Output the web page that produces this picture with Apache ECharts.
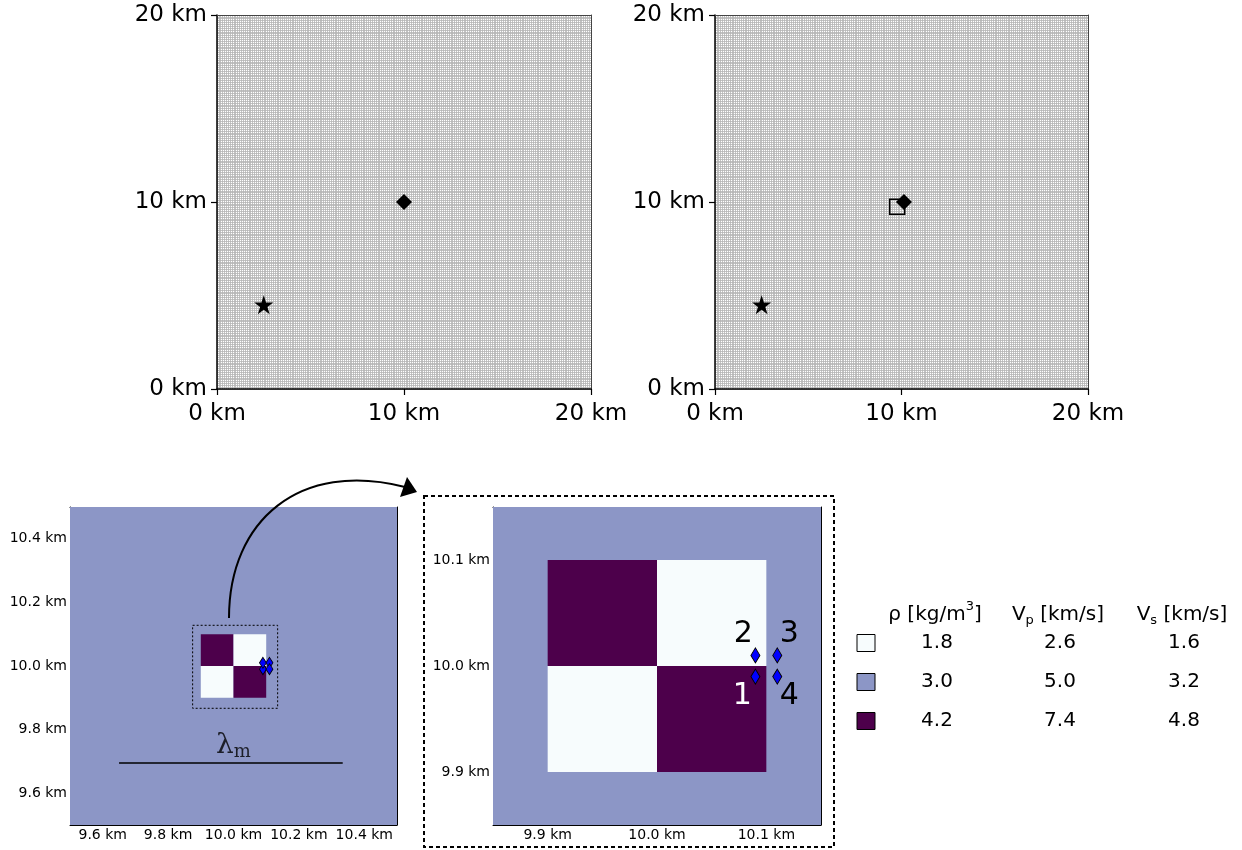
<!DOCTYPE html>
<html>
<head>
<meta charset="utf-8">
<script src="https://cdn.jsdelivr.net/npm/echarts@6/dist/echarts.min.js"></script>
<style>html,body{margin:0;padding:0;background:#fff}#c{width:1242px;height:850px}</style>
</head>
<body>
<div id="c"></div>
<script>
// ---------- data ----------
const topTicks = [0, 10, 20];
const topRange = [0, 20];
const meshStep = 0.1;
const sourceStar = [[2.5, 4.5]];
const leftStation = [[10.0, 10.0]];
const rightStation = [[10.13, 10.0]];
const rightSquare = [[9.77, 9.74]];

const zoomRangeL = [9.5, 10.5];
const zoomTicksL = [9.6, 9.8, 10.0, 10.2, 10.4];
const zoomRangeR = [9.85, 10.15];
const zoomTicksR = [9.9, 10.0, 10.1];

// cells: x0, y0, x1, y1, material index
const checkerCells = [
  [9.9, 10.0, 10.0, 10.1, 2],
  [10.0, 10.0, 10.1, 10.1, 0],
  [9.9, 9.9, 10.0, 10.0, 0],
  [10.0, 9.9, 10.1, 10.0, 2]
];
const backgroundMaterial = 1;
const inclusionBox = [[9.875, 9.867, 10.135, 10.128]];
const receivers = [[10.09, 9.99], [10.09, 10.01], [10.11, 10.01], [10.11, 9.99]];
const receiverNames = ['1', '2', '3', '4'];
const lambdaLine = [[9.65, 9.695], [10.334, 9.695]];
const lambdaLabelPos = [[10.0, 9.748]];

const materialColors = ['#f7fcfd', '#8c96c6', '#4d004b'];
const rhoValues = ['1.8', '3.0', '4.2'];
const vpValues = ['2.6', '5.0', '7.4'];
const vsValues = ['1.6', '3.2', '4.8'];

// ---------- helpers ----------
const FONT = 'DejaVu Sans';
function cellSeries(data, xi, yi, z) {
  return {
    type: 'custom', xAxisIndex: xi, yAxisIndex: yi, z: z || 1,
    encode: { x: [0, 2], y: [1, 3] },
    data: data,
    silent: true,
    renderItem: function (params, api) {
      const p0 = api.coord([api.value(0), api.value(1)]);
      const p1 = api.coord([api.value(2), api.value(3)]);
      return {
        type: 'rect',
        shape: { x: Math.min(p0[0], p1[0]), y: Math.min(p0[1], p1[1]),
                 width: Math.abs(p1[0] - p0[0]), height: Math.abs(p1[1] - p0[1]) },
        style: { fill: materialColors[api.value(4)] }
      };
    }
  };
}
function topMainX(gi) {
  return { type: 'value', gridIndex: gi, min: topRange[0], max: topRange[1], interval: 10, position: 'bottom',
    axisLine: { show: true, onZero: false, lineStyle: { color: '#000', width: 1.5 } },
    axisTick: { show: true, inside: false, length: 6, lineStyle: { color: '#000', width: 1.2 } },
    axisLabel: { show: true, margin: 14, color: '#000', fontSize: 23, fontFamily: FONT, formatter: v => v + ' km' },
    splitLine: { show: false } };
}
function topMainY(gi) {
  return { type: 'value', gridIndex: gi, min: topRange[0], max: topRange[1], interval: 10, position: 'left',
    axisLine: { show: true, onZero: false, lineStyle: { color: '#000', width: 1.5 } },
    axisTick: { show: true, inside: false, length: 6, lineStyle: { color: '#000', width: 1.2 } },
    axisLabel: { show: true, margin: 10, color: '#000', fontSize: 23, fontFamily: FONT, formatter: v => v + ' km' },
    splitLine: { show: false } };
}
function meshAxis(kind, gi) {
  return { type: 'value', gridIndex: gi, min: topRange[0], max: topRange[1], interval: meshStep,
    position: kind === 'x' ? 'top' : 'right',
    axisLine: { show: true, onZero: false, lineStyle: { color: '#444', width: 1 } },
    axisTick: { show: false }, axisLabel: { show: false },
    splitLine: { show: true, lineStyle: { color: '#b4b4b4', width: 0.8 } } };
}
function zoomAxis(kind, gi, range, ticks, withLabels) {
  const pos = kind === 'x' ? (withLabels ? 'bottom' : 'top') : (withLabels ? 'left' : 'right');
  return { type: 'value', gridIndex: gi, min: range[0], max: range[1], position: pos,
    axisLine: { show: true, onZero: false, lineStyle: { color: '#000', width: 1 } },
    axisTick: { show: true, inside: true, length: 4, customValues: ticks, lineStyle: { color: '#000', width: 1 } },
    axisLabel: { show: withLabels, customValues: ticks, margin: 3, color: '#000', fontSize: 14, fontFamily: FONT,
      formatter: v => v.toFixed(1) + ' km' },
    splitLine: { show: false } };
}
const starPath = 'path://M50,0 L61.8,35.5 L99,35.5 L69,57.5 L80.4,93 L50,71 L19.6,93 L31,57.5 L1,35.5 L38.2,35.5 Z';

const mediumL = [[zoomRangeL[0], zoomRangeL[0], zoomRangeL[1], zoomRangeL[1], backgroundMaterial]];
const mediumR = [[zoomRangeR[0], zoomRangeR[0], zoomRangeR[1], zoomRangeR[1], backgroundMaterial]];

const receiverLabelOffsets = [[-13, 20], [-12, -21], [12, -21], [12, 20]];
const receiverLabelColors = ['#fff', '#000', '#000', '#000'];

// ---------- legend table (graphic) ----------
const colX = [935, 1058, 1182];
const headerY = 615;
const rowY = [643, 682, 721];
const legendGraphics = [];
const subRich = {
  a: { fontFamily: FONT, fontSize: 20, color: '#000', lineHeight: 24, verticalAlign: 'middle' },
  sub: { fontFamily: FONT, fontSize: 13, color: '#000', lineHeight: 12, verticalAlign: 'bottom' },
  sup: { fontFamily: FONT, fontSize: 13, color: '#000', lineHeight: 30, verticalAlign: 'top' }
};
const headers = ['{a|ρ [kg/m}{sup|3}{a|]}', '{a|V}{sub|p}{a| [km/s]}', '{a|V}{sub|s}{a| [km/s]}'];
headers.forEach((h, i) => {
  legendGraphics.push({ type: 'text', x: colX[i], y: headerY, z: 100,
    style: { text: h, rich: subRich, align: 'center', verticalAlign: 'middle' } });
});
materialColors.forEach((c, r) => {
  legendGraphics.push({ type: 'rect', z: 100, shape: { x: 857, y: rowY[r] - 8.5, width: 18, height: 17 },
    style: { fill: c, stroke: '#000', lineWidth: 1 } });
  [rhoValues[r], vpValues[r], vsValues[r]].forEach((v, i) => {
    legendGraphics.push({ type: 'text', z: 100, x: colX[i] + 2, y: rowY[r],
      style: { text: v, font: '20px ' + FONT, fill: '#000', align: 'center', verticalAlign: 'middle' } });
  });
});

// ---------- decorations ----------
const decorations = [
  { type: 'rect', z: 100, shape: { x: 424, y: 496, width: 410, height: 351 },
    style: { fill: 'none', stroke: '#000', lineWidth: 2, lineDash: [4, 3] } },
  { type: 'bezierCurve', z: 100, shape: { x1: 229, y1: 618, cpx1: 229, cpy1: 520, cpx2: 300, cpy2: 460, x2: 405, y2: 487 },
    style: { fill: 'none', stroke: '#000', lineWidth: 2 } },
  { type: 'polygon', z: 100, shape: { points: [[417, 492], [407, 477], [400, 497]] }, style: { fill: '#000' } }
];

const solid = c => ({ color: c, opacity: 1 });

const chart = echarts.init(document.getElementById('c'));
chart.setOption({
  backgroundColor: '#fff',
  animation: false,
  grid: [
    { left: 217, top: 15, width: 374, height: 374 },
    { left: 715, top: 15, width: 373, height: 374 },
    { left: 70, top: 507, width: 327, height: 318 },
    { left: 493, top: 507, width: 328, height: 318 }
  ],
  xAxis: [
    topMainX(0), meshAxis('x', 0),
    topMainX(1), meshAxis('x', 1),
    zoomAxis('x', 2, zoomRangeL, zoomTicksL, true), zoomAxis('x', 2, zoomRangeL, zoomTicksL, false),
    zoomAxis('x', 3, zoomRangeR, zoomTicksR, true), zoomAxis('x', 3, zoomRangeR, zoomTicksR, false)
  ],
  yAxis: [
    topMainY(0), meshAxis('y', 0),
    topMainY(1), meshAxis('y', 1),
    zoomAxis('y', 2, zoomRangeL, zoomTicksL, true), zoomAxis('y', 2, zoomRangeL, zoomTicksL, false),
    zoomAxis('y', 3, zoomRangeR, zoomTicksR, true), zoomAxis('y', 3, zoomRangeR, zoomTicksR, false)
  ],
  series: [
    // top-left
    { type: 'scatter', xAxisIndex: 0, yAxisIndex: 0, data: sourceStar, symbol: starPath, symbolSize: 19,
      itemStyle: solid('#000'), z: 5 },
    { type: 'scatter', xAxisIndex: 0, yAxisIndex: 0, data: leftStation, symbol: 'diamond', symbolSize: [16, 16],
      itemStyle: solid('#000'), z: 5 },
    // top-right
    { type: 'scatter', xAxisIndex: 2, yAxisIndex: 2, data: sourceStar, symbol: starPath, symbolSize: 19,
      itemStyle: solid('#000'), z: 5 },
    { type: 'scatter', xAxisIndex: 2, yAxisIndex: 2, data: rightSquare, symbol: 'rect', symbolSize: 15,
      itemStyle: { color: 'rgba(0,0,0,0)', borderColor: '#000', borderWidth: 1.5, opacity: 1 }, z: 5 },
    { type: 'scatter', xAxisIndex: 2, yAxisIndex: 2, data: rightStation, symbol: 'diamond', symbolSize: [16, 16],
      itemStyle: solid('#000'), z: 6 },
    // bottom-left
    cellSeries(mediumL, 4, 4, 1),
    cellSeries(checkerCells, 4, 4, 2),
    { type: 'custom', xAxisIndex: 4, yAxisIndex: 4, z: 3, silent: true, encode: { x: [0, 2], y: [1, 3] },
      data: inclusionBox,
      renderItem: function (params, api) {
        const p0 = api.coord([api.value(0), api.value(1)]);
        const p1 = api.coord([api.value(2), api.value(3)]);
        return { type: 'rect', shape: { x: p0[0], y: p1[1], width: p1[0] - p0[0], height: p0[1] - p1[1] },
          style: { fill: 'none', stroke: '#000', lineWidth: 1, lineDash: [2, 2] } };
      } },
    { type: 'scatter', xAxisIndex: 4, yAxisIndex: 4, data: receivers, symbol: 'diamond', symbolSize: [7, 11],
      itemStyle: { color: '#0000ff', borderColor: '#000', borderWidth: 0.8, opacity: 1 }, z: 4 },
    { type: 'line', xAxisIndex: 4, yAxisIndex: 4, data: lambdaLine, symbol: 'none',
      lineStyle: { color: '#000', width: 1.5 }, z: 4 },
    { type: 'scatter', xAxisIndex: 4, yAxisIndex: 4, data: lambdaLabelPos, symbolSize: 0, z: 4,
      label: { show: true, position: 'inside', formatter: '{l|λ}{m|m}',
        rich: { l: { fontFamily: 'DejaVu Serif', fontSize: 28, color: '#000', lineHeight: 30, verticalAlign: 'middle' },
                m: { fontFamily: 'DejaVu Serif', fontSize: 18, color: '#000', lineHeight: 12, verticalAlign: 'bottom' } } } },
    // bottom-middle
    cellSeries(mediumR, 6, 6, 1),
    cellSeries(checkerCells, 6, 6, 2),
    { type: 'scatter', xAxisIndex: 6, yAxisIndex: 6, z: 4, symbol: 'diamond', symbolSize: [9, 15],
      itemStyle: { color: '#0000ff', borderColor: '#000', borderWidth: 1, opacity: 1 },
      data: receivers.map((p, i) => ({ value: p, label: { show: true, position: 'inside',
        offset: receiverLabelOffsets[i], formatter: receiverNames[i], color: receiverLabelColors[i],
        fontSize: 30, fontFamily: FONT } })) }
  ],
  graphic: decorations.concat(legendGraphics)
});
</script>
</body>
</html>
